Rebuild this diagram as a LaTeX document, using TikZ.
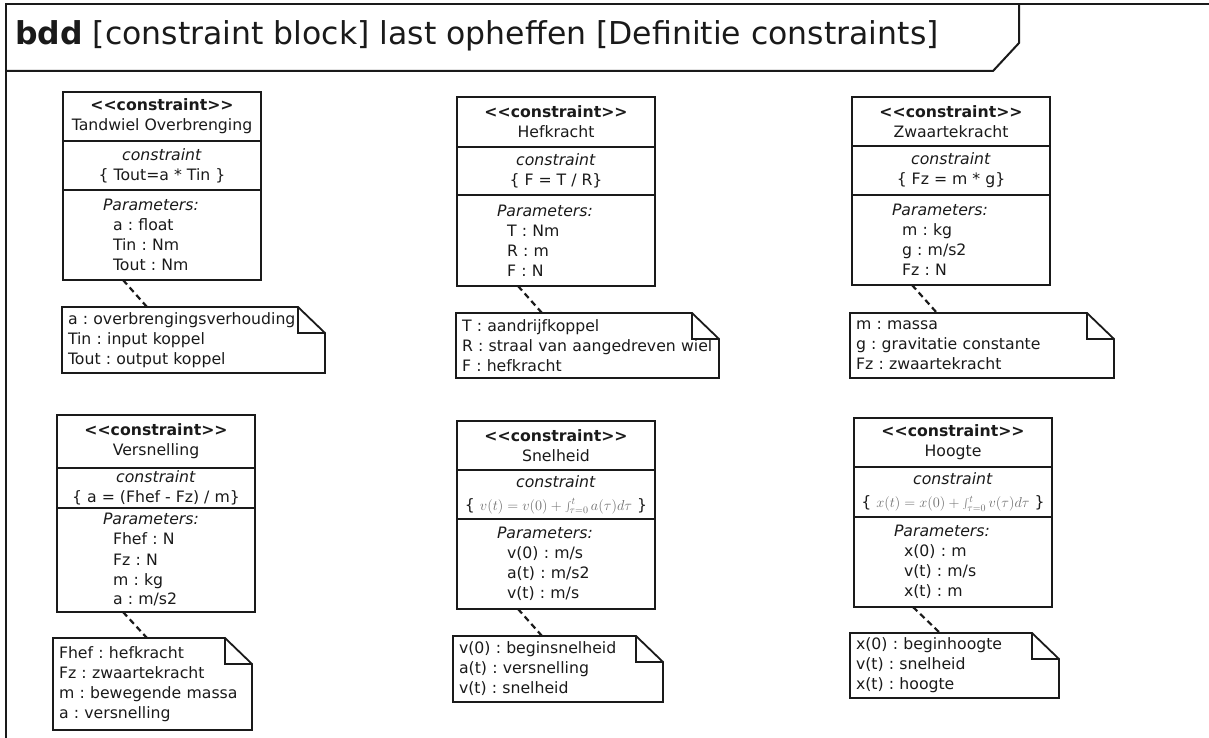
\documentclass[tikz,border=0pt]{standalone}
\usepackage{fontspec}
\setmainfont{DejaVu Sans}
\usetikzlibrary{positioning}
\definecolor{ink}{HTML}{1A1A1A}
\definecolor{mathgray}{HTML}{6E6E6E}
\frenchspacing

\begin{document}
\begin{tikzpicture}[x=1pt,y=-1pt,line join=miter,
  every node/.style={font=\fontsize{15.7}{20}\selectfont,text=ink,outer sep=0pt},
  box/.style={draw=ink,line width=1.8pt,minimum width=198pt,inner sep=0pt,align=center},
  hd/.style={box,anchor=north west,minimum height=49pt},
  cs/.style={box,minimum height=49pt},
  pm/.style={box,minimum height=90pt,text width=118pt,inner xsep=40pt,align=left},
  note/.style={anchor=north west,inner sep=0pt,inner xsep=6pt,align=left},
  link/.style={draw=ink,line width=2.2pt,dash pattern=on 6pt off 4pt},
  frame/.style={draw=ink,line width=2pt}]
\useasboundingbox (0,0) rectangle (1209,738);
\draw[frame] (1209,4) -- (6,4) -- (6,738);
\draw[frame] (6,71) -- (993,71) -- (1019,43) -- (1019,4);
\node[anchor=base west,font=\fontsize{31.5}{33}\selectfont] (title) at (12,45)
  {\textbf{bdd} [constraint block] last opheffen [Definitie constraints]};

\node[hd] (tw) at (63,92) {\textbf{<\kern0pt<constraint>\kern0pt>}\\Tandwiel Overbrenging};
\node[cs,below=0pt of tw] (tw-c) {\textit{constraint}\\\{ Tout=a * Tin \}};
\node[pm,below=0pt of tw-c] (tw-p) {\textit{Parameters:}\\\hspace*{10pt}a : float\\\hspace*{10pt}Tin : Nm\\\hspace*{10pt}Tout : Nm};
\node[note,text width=251pt,minimum height=66pt] (tw-n) at (62,307)
  {a : overbrengingsverhouding\\Tin : input koppel\\Tout : output koppel};

\node[hd,minimum height=50pt] (hk) at (457,97) {\textbf{<\kern0pt<constraint>\kern0pt>}\\Hefkracht};
\node[cs,minimum height=48pt,below=0pt of hk] (hk-c) {\textit{constraint}\\\{ F = T / R\}};
\node[pm,minimum height=91pt,below=0pt of hk-c] (hk-p) {\textit{Parameters:}\\\hspace*{10pt}T : Nm\\\hspace*{10pt}R : m\\\hspace*{10pt}F : N};
\node[note,text width=251pt,minimum height=65pt] (hk-n) at (456,313)
  {T : aandrijfkoppel\\R : straal van aangedreven wiel\\F : hefkracht};

\node[hd] (zk) at (852,97) {\textbf{<\kern0pt<constraint>\kern0pt>}\\Zwaartekracht};
\node[cs,below=0pt of zk] (zk-c) {\textit{constraint}\\\{ Fz = m * g\}};
\node[pm,below=0pt of zk-c] (zk-p) {\textit{Parameters:}\\\hspace*{10pt}m : kg\\\hspace*{10pt}g : m/s2\\\hspace*{10pt}Fz : N};
\node[note,text width=252pt,minimum height=65pt] (zk-n) at (850,313)
  {m : massa\\g : gravitatie constante\\Fz : zwaartekracht};

\node[hd,minimum height=53pt] (vs) at (57,415) {\textbf{<\kern0pt<constraint>\kern0pt>}\\Versnelling};
\node[cs,minimum height=40pt,below=0pt of vs] (vs-c) {\textit{constraint}\\\{ a = (Fhef - Fz) / m\}};
\node[pm,minimum height=104pt,text width=106pt,inner xsep=46pt,below=0pt of vs-c] (vs-p)
  {\textit{Parameters:}\\\hspace*{10pt}Fhef : N\\\hspace*{10pt}Fz : N\\\hspace*{10pt}m : kg\\\hspace*{10pt}a : m/s2};
\node[note,text width=187pt,minimum height=92pt] (vs-n) at (53,638)
  {Fhef : hefkracht\\Fz : zwaartekracht\\m : bewegende massa\\a : versnelling};

\node[hd] (sh) at (457,421) {\textbf{<\kern0pt<constraint>\kern0pt>}\\Snelheid};
\node[cs,below=0pt of sh] (sh-c) {\textit{constraint}\\[3pt]\{ {\color{mathgray}\fontsize{14.5}{17}\selectfont$v(t)=v(0)+\int_{\tau=0}^{t}a(\tau)d\tau$} \}};
\node[pm,below=0pt of sh-c] (sh-p) {\textit{Parameters:}\\\hspace*{10pt}v(0) : m/s\\\hspace*{10pt}a(t) : m/s2\\\hspace*{10pt}v(t) : m/s};
\node[note,text width=198pt,minimum height=66pt] (sh-n) at (453,636)
  {v(0) : beginsnelheid\\a(t) : versnelling\\v(t) : snelheid};

\node[hd] (hg) at (854,418) {\textbf{<\kern0pt<constraint>\kern0pt>}\\Hoogte};
\node[cs,minimum height=50pt,below=0pt of hg] (hg-c) {\textit{constraint}\\[3pt]\{ {\color{mathgray}\fontsize{14.5}{17}\selectfont$x(t)=x(0)+\int_{\tau=0}^{t}v(\tau)d\tau$} \}};
\node[pm,below=0pt of hg-c] (hg-p) {\textit{Parameters:}\\\hspace*{10pt}x(0) : m\\\hspace*{10pt}v(t) : m/s\\\hspace*{10pt}x(t) : m};
\node[note,text width=197pt,minimum height=65pt] (hg-n) at (850,633)
  {x(0) : beginhoogte\\v(t) : snelheid\\x(t) : hoogte};

\foreach \n in {tw-n,hk-n,zk-n,vs-n,sh-n,hg-n}
  \draw[draw=ink,line width=1.8pt] (\n.north west) -- ([xshift=-27pt]\n.north east)
    -- ([yshift=-26pt]\n.north east) -- (\n.south east) -- (\n.south west) -- cycle
    ([xshift=-27pt]\n.north east) |- ([yshift=-26pt]\n.north east);

\draw[link] ([xshift=60pt]tw-p.south west) -- ([xshift=85pt]tw-n.north west);
\draw[link] ([xshift=61pt]hk-p.south west) -- ([xshift=86pt]hk-n.north west);
\draw[link] ([xshift=60pt]zk-p.south west) -- ([xshift=87pt]zk-n.north west);
\draw[link] ([xshift=66pt]vs-p.south west) -- ([xshift=94pt]vs-n.north west);
\draw[link] ([xshift=61pt]sh-p.south west) -- ([xshift=89pt]sh-n.north west);
\draw[link] ([xshift=59pt]hg-p.south west) -- ([xshift=90pt]hg-n.north west);
\end{tikzpicture}
\end{document}
